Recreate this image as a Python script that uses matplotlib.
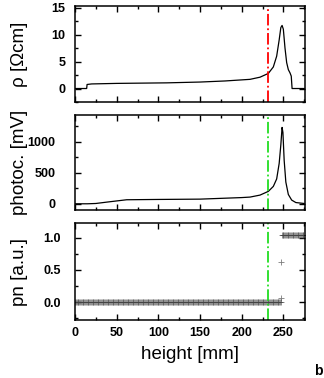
import numpy as np
import matplotlib
matplotlib.use("Agg")
import matplotlib.pyplot as plt
from matplotlib.ticker import MultipleLocator

plt.rcParams['font.family'] = ['Liberation Sans', 'DejaVu Sans']

# resistivity profile (height mm, rho Ohm cm)
rho_x = [0, 14, 14.5, 20, 50, 110, 150, 180, 210, 222, 232, 238, 242, 245, 247, 248.5, 250, 252, 254, 256, 258, 259.5, 260.5, 275]
rho_y = [0, 0, 0.75, 0.85, 0.95, 1.05, 1.2, 1.4, 1.7, 2.1, 2.8, 4.0, 6.0, 9.0, 11.3, 11.7, 11.0, 7.5, 4.8, 3.5, 2.9, 2.3, 0, 0]

# photocurrent profile (height mm, mV)
pc_x = [0, 15, 25, 40, 62, 100, 150, 200, 210, 222, 232, 238, 242, 245, 247, 248.5, 249.5, 251, 253, 256, 260, 265, 275]
pc_y = [0, 0, 5, 30, 65, 70, 75, 100, 108, 140, 200, 280, 400, 650, 950, 1230, 1150, 700, 350, 150, 60, 20, 5]

# pn type (a.u.)
pn_low_x = np.arange(0, 248, 1.0)
pn_low_y = np.zeros_like(pn_low_x)
pn_mid_x = [247, 247.5]
pn_mid_y = [0.07, 0.62]
pn_high_x = np.arange(248, 275, 1.0)
pn_high_y = np.full_like(pn_high_x, 1.05)

cut_height = 231.5

fig = plt.figure(figsize=(3.24, 3.78), dpi=100)
left, width = 75 / 324, 230 / 324
ax1 = fig.add_axes([left, 1 - 102 / 378, width, 96 / 378])
ax2 = fig.add_axes([left, 1 - 210 / 378, width, 95 / 378])
ax3 = fig.add_axes([left, 1 - 320 / 378, width, 97 / 378])

ax1.plot(rho_x, rho_y, color='black', lw=0.9)
ax1.axvline(cut_height, color='red', lw=1.3, ls='-.')
ax1.set_ylim(-2.5, 15.3)
ax1.yaxis.set_major_locator(MultipleLocator(5))
ax1.yaxis.set_minor_locator(MultipleLocator(2.5))
ax1.set_ylabel('ρ [Ωcm]', fontsize=13.5)

ax2.plot(pc_x, pc_y, color='black', lw=0.9)
ax2.axvline(cut_height, color='#22dd22', lw=1.3, ls='-.')
ax2.set_ylim(-100, 1430)
ax2.yaxis.set_major_locator(MultipleLocator(500))
ax2.yaxis.set_minor_locator(MultipleLocator(250))
ax2.set_ylabel('photoc. [mV]', fontsize=13.5)

for px, py in ((pn_low_x, pn_low_y), (pn_mid_x, pn_mid_y), (pn_high_x, pn_high_y)):
    ax3.plot(px, py, ls='none', marker='+', ms=5, mew=0.6, color='#444444', alpha=0.7)
ax3.axvline(cut_height, color='#22dd22', lw=1.3, ls='-.')
ax3.set_ylim(-0.28, 1.23)
ax3.yaxis.set_major_locator(MultipleLocator(0.5))
ax3.yaxis.set_minor_locator(MultipleLocator(0.25))
ax3.set_ylabel('pn [a.u.]', fontsize=13.5)
ax3.set_xlabel('height [mm]', fontsize=13.5, labelpad=5)

for ax, ypad in ((ax1, 7), (ax2, 14), (ax3, 10)):
    ax.set_xlim(0, 276)
    ax.xaxis.set_major_locator(MultipleLocator(50))
    ax.xaxis.set_minor_locator(MultipleLocator(25))
    ax.tick_params(which='both', direction='in', top=True, right=True, width=1.0)
    ax.tick_params(which='major', length=4, labelsize=9)
    ax.tick_params(axis='x', which='major', pad=5)
    ax.tick_params(axis='y', which='major', pad=ypad)
    ax.tick_params(which='minor', length=2.5)
    for lab in ax.get_xticklabels() + ax.get_yticklabels():
        lab.set_fontweight('bold')
    for sp in ax.spines.values():
        sp.set_linewidth(1.1)
    ax.yaxis.set_label_coords(-0.205, 0.5)

ax1.tick_params(labelbottom=False)
ax2.tick_params(labelbottom=False)

fig.text(318 / 324, 1 - 371 / 378, 'b', fontsize=10, fontweight='bold', ha='center', va='center')

fig.savefig('out.png', dpi=100)
